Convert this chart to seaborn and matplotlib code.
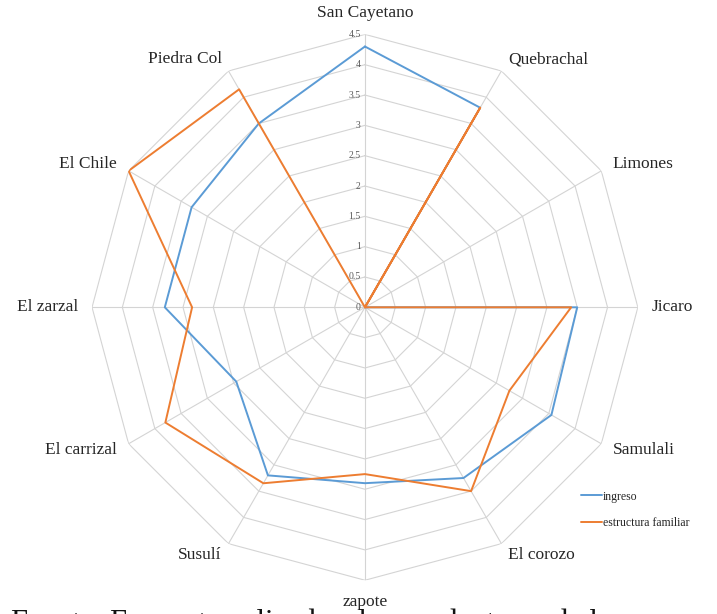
import numpy as np
import pandas as pd
import matplotlib
matplotlib.use('Agg')
import matplotlib.pyplot as plt
import seaborn as sns

comunidades = ['San Cayetano', 'Quebrachal', 'Limones', 'Jicaro', 'Samulali', 'El corozo',
               'zapote', 'Susulí', 'El carrizal', 'El zarzal', 'El Chile', 'Piedra Col']
ingreso = [4.3, 3.8, 0, 3.5, 3.55, 3.25, 2.9, 3.2, 2.45, 3.3, 3.3, 3.5]
estructura = [0, 3.8, 0, 3.4, 2.75, 3.5, 2.75, 3.35, 3.8, 2.85, 4.5, 4.15]
niveles = [0, 0.5, 1, 1.5, 2, 2.5, 3, 3.5, 4, 4.5]
etiquetas_niveles = ['0', '0.5', '1', '1.5', '2', '2.5', '3', '3.5', '4', '4.5']
series = ['ingreso', 'estructura familiar']

n = len(comunidades)
angulos = np.linspace(0, 2 * np.pi, n, endpoint=False)
ang_cerrado = np.append(angulos, 2 * np.pi)

filas = []
for nombre, valores in zip(series, [ingreso, estructura]):
    cerr = list(valores) + [valores[0]]
    for a, v in zip(ang_cerrado, cerr):
        filas.append({'theta': a, 'valor': v, 'serie': nombre})
df = pd.DataFrame(filas)

sns.set_theme(style='white')
plt.rcParams['font.family'] = ['Liberation Serif', 'DejaVu Serif']

fig = plt.figure(figsize=(7.17, 6.14), dpi=100)
ax = fig.add_axes([0.128, 0.055, 0.762, 0.889], projection='polar')
ax.set_theta_zero_location('N')
ax.set_theta_direction(-1)
ax.set_ylim(0, 4.5)
ax.grid(False)
ax.spines['polar'].set_visible(False)
ax.set_xticks([])
ax.set_yticks([])
ax.patch.set_alpha(0)

gris = '#d4d4d4'
for nv in niveles[1:]:
    ax.plot(ang_cerrado, [nv] * len(ang_cerrado), color=gris, lw=0.8, zorder=1)
for a in angulos:
    ax.plot([a, a], [0, 4.5], color=gris, lw=0.8, zorder=1)

for nv, txt in zip(niveles, etiquetas_niveles):
    ax.annotate(txt, xy=(0, nv), xytext=(-3, 0), textcoords='offset points',
                ha='right', va='center', fontsize=7, color='#595959', zorder=2)

# primero ingreso, encima estructura familiar
sns.lineplot(data=df, x='theta', y='valor', hue='serie', sort=False,
             palette={'ingreso': '#5B9BD5', 'estructura familiar': '#ED7D31'},
             linewidth=1.4, ax=ax, zorder=3)
ax.set_xlabel('')
ax.set_ylabel('')

r_lab = 4.72
for a, nombre in zip(angulos, comunidades):
    s, c = np.sin(a), np.cos(a)
    ha = 'left' if s > 0.1 else ('right' if s < -0.1 else 'center')
    va = 'bottom' if c > 0.9 else ('top' if c < -0.9 else 'center')
    ax.text(a, r_lab, nombre, ha=ha, va=va, fontsize=12.5, color='#262626')

ax.legend(loc='upper left', bbox_to_anchor=(570 / 717, 1 - 480 / 614),
          bbox_transform=fig.transFigure, frameon=False, handlelength=1.8,
          handletextpad=0.1, labelspacing=1.2, fontsize=8.5)

# pie de figura, cortado por el borde inferior como en el original
fig.text(0.015, -0.027, 'Fuente: Encuesta aplicada a los productores de la zona',
         ha='left', va='baseline', fontsize=22, color='#111111', zorder=0)

fig.savefig('out.png', dpi=100)
